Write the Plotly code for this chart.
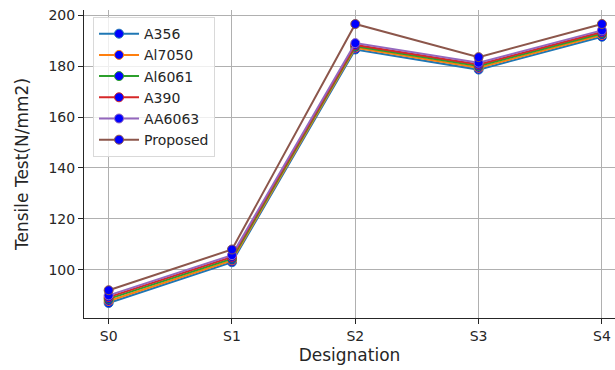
import plotly.graph_objects as go

categories = ["S0", "S1", "S2", "S3", "S4"]
series_names = ["A356", "Al7050", "Al6061", "A390", "AA6063", "Proposed"]
a356 = [87.0, 103.0, 186.5, 178.6, 191.5]
al7050 = [87.8, 103.7, 187.2, 179.3, 192.2]
al6061 = [88.6, 104.4, 187.8, 180.0, 192.8]
a390 = [89.3, 105.1, 188.3, 180.6, 193.4]
aa6063 = [90.0, 105.8, 189.0, 181.3, 194.0]
proposed = [92.0, 108.0, 196.5, 183.5, 196.5]
all_values = [a356, al7050, al6061, a390, aa6063, proposed]
line_colors = ["#1f77b4", "#ff7f0e", "#2ca02c", "#d62728", "#9467bd", "#8c564b"]

fig = go.Figure()
for name, vals, col in zip(series_names, all_values, line_colors):
    fig.add_trace(go.Scatter(
        x=list(range(len(categories))), y=vals, name=name, mode="lines+markers",
        line=dict(color=col, width=2),
        marker=dict(color="#0000ff", size=9, line=dict(color=col, width=1)),
        cliponaxis=False,
    ))

font_fam = "DejaVu Sans"
fig.update_layout(
    width=615, height=370,
    margin=dict(l=84, r=0, t=10, b=52),
    paper_bgcolor="white", plot_bgcolor="white",
    font=dict(family=font_fam, size=14, color="#262626"),
    showlegend=True,
    legend=dict(
        x=0.017, y=0.977, xanchor="left", yanchor="top",
        bgcolor="rgba(255,255,255,0.8)", bordercolor="#d9d9d9", borderwidth=1,
        font=dict(family=font_fam, size=14, color="#262626"),
        itemwidth=40, tracegroupgap=0,
    ),
    xaxis=dict(
        range=[-0.2, 4.106], tickmode="array",
        tickvals=list(range(len(categories))), ticktext=categories,
        showgrid=True, gridcolor="#b0b0b0", gridwidth=1,
        showline=True, linecolor="#262626", linewidth=1, mirror=False,
        ticks="outside", ticklen=5, tickcolor="#262626",
        title=dict(text="Designation", font=dict(size=17), standoff=6),
        zeroline=False,
    ),
    yaxis=dict(
        range=[81.1, 202.0], tickmode="array",
        tickvals=[100, 120, 140, 160, 180, 200],
        showgrid=True, gridcolor="#b0b0b0", gridwidth=1,
        showline=True, linecolor="#262626", linewidth=1, mirror=True,
        ticks="outside", ticklen=5, tickcolor="#262626",
        title=dict(text="Tensile Test(N/mm2)", font=dict(size=17), standoff=15),
        zeroline=False,
    ),
)
fig.write_html("out.html")
